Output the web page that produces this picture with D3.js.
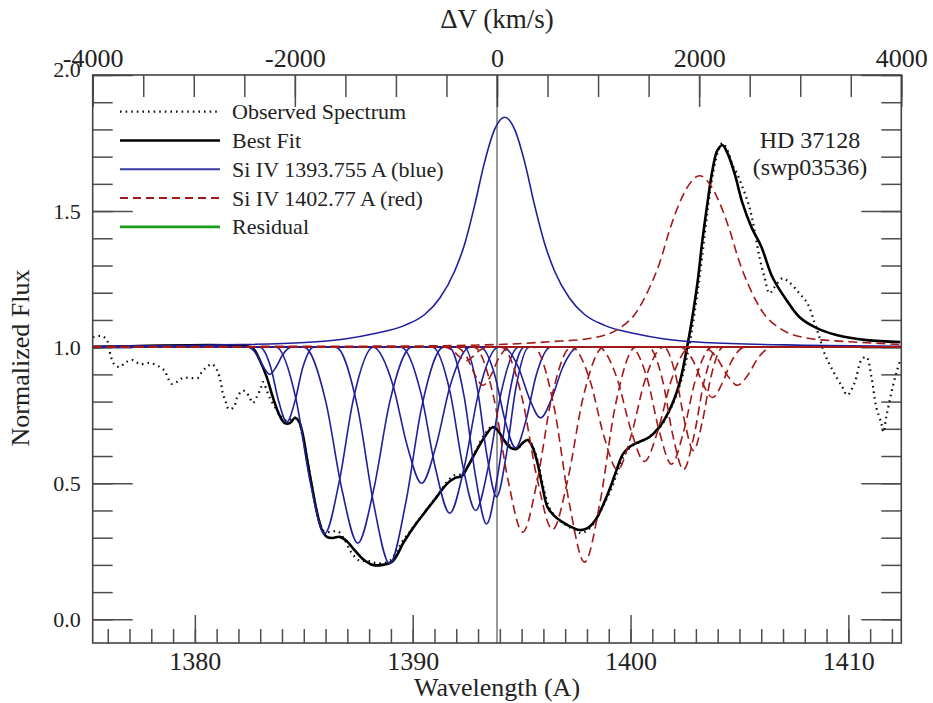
<!DOCTYPE html>
<html>
<head>
<meta charset="utf-8">
<script src="https://cdn.jsdelivr.net/npm/d3@7"></script>
<style>
  body { margin: 0; background: #fff; }
  text { font-family: "Liberation Serif", "Times New Roman", serif; fill: #222; }
</style>
</head>
<body>
<svg class="chart" width="933" height="703"></svg>
<script>
// wavelength (A) and normalized flux
var observed = [
  [1375.32,1.037],[1375.73,1.041],[1375.96,1.026],[1376.15,0.964],[1376.33,0.934],[1376.56,0.927],[1376.79,0.942],
  [1377.11,0.953],[1377.48,0.938],[1377.94,0.942],[1378.39,0.927],[1378.62,0.912],[1378.76,0.887],[1378.94,0.865],
  [1379.17,0.872],[1379.45,0.887],[1379.77,0.887],[1380.14,0.887],[1380.32,0.909],[1380.55,0.927],[1380.78,0.938],
  [1381.01,0.916],[1381.19,0.872],[1381.28,0.831],[1381.42,0.798],[1381.56,0.772],[1381.79,0.780],[1381.93,0.813],
  [1382.16,0.839],[1382.29,0.839],[1382.48,0.821],[1382.66,0.795],[1382.84,0.817],[1383.03,0.850],[1383.12,0.872],
  [1383.44,0.813],[1383.76,0.769],[1383.99,0.743],[1384.27,0.728],[1384.54,0.743],[1384.77,0.725],[1384.95,0.670],
  [1385.18,0.578],[1385.41,0.475],[1385.64,0.383],[1385.92,0.324],[1386.24,0.321],[1386.56,0.324],[1386.88,0.291],
  [1387.20,0.244],[1387.57,0.215],[1387.94,0.215],[1388.30,0.207],[1388.67,0.207],[1388.99,0.218],[1389.27,0.251],
  [1389.54,0.288],[1389.86,0.321],[1390.23,0.361],[1390.69,0.409],[1391.15,0.457],[1391.56,0.504],[1391.93,0.530],
  [1392.25,0.534],[1392.57,0.567],[1392.94,0.626],[1393.30,0.680],[1393.62,0.706],[1393.90,0.692],[1394.17,0.659],
  [1394.50,0.637],[1394.82,0.629],[1395.09,0.651],[1395.32,0.659],[1395.55,0.629],[1395.78,0.567],[1396.01,0.482],
  [1396.28,0.409],[1396.61,0.372],[1396.97,0.350],[1397.34,0.332],[1397.71,0.317],[1398.03,0.328],[1398.39,0.361],
  [1398.76,0.420],[1399.13,0.482],[1399.40,0.541],[1399.68,0.600],[1400.00,0.633],[1400.41,0.651],[1400.87,0.670],
  [1401.33,0.703],[1401.79,0.765],[1402.25,0.857],[1402.61,0.971],[1402.89,1.100],[1403.12,1.228],[1403.35,1.375],
  [1403.58,1.529],[1403.81,1.650],[1404.04,1.724],[1404.22,1.750],[1404.45,1.724],[1404.68,1.669],[1404.86,1.643],
  [1405.14,1.588],[1405.46,1.514],[1405.69,1.429],[1405.92,1.330],[1406.15,1.257],[1406.38,1.198],[1406.61,1.220],
  [1406.97,1.253],[1407.29,1.238],[1407.75,1.198],[1408.12,1.161],[1408.44,1.092],[1408.67,1.037],[1408.90,0.978],
  [1409.27,0.916],[1409.72,0.854],[1409.95,0.824],[1410.28,0.868],[1410.60,0.953],[1410.83,0.964],[1411.06,0.890],
  [1411.28,0.780],[1411.51,0.722],[1411.61,0.688],[1411.74,0.743],[1411.97,0.831],[1412.20,0.905],[1412.39,0.953]
];

var bestFit = [
  [1375.32,1.000],[1382.29,1.004],[1382.66,0.996],[1382.98,0.952],[1383.30,0.890],[1383.58,0.816],[1383.90,0.747],
  [1384.13,0.721],[1384.36,0.721],[1384.59,0.740],[1384.77,0.729],[1384.95,0.681],[1385.14,0.593],[1385.37,0.490],
  [1385.60,0.395],[1385.83,0.329],[1386.06,0.303],[1386.33,0.299],[1386.65,0.303],[1386.97,0.288],[1387.29,0.258],
  [1387.71,0.222],[1388.17,0.200],[1388.62,0.200],[1389.04,0.211],[1389.31,0.240],[1389.54,0.277],[1389.86,0.317],
  [1390.18,0.354],[1390.64,0.402],[1391.10,0.449],[1391.56,0.497],[1391.93,0.519],[1392.25,0.526],[1392.52,0.560],
  [1392.94,0.622],[1393.30,0.670],[1393.67,0.706],[1393.90,0.695],[1394.13,0.666],[1394.45,0.633],[1394.77,0.626],
  [1395.05,0.648],[1395.28,0.659],[1395.50,0.633],[1395.73,0.574],[1395.96,0.486],[1396.19,0.412],[1396.51,0.379],
  [1396.88,0.357],[1397.29,0.339],[1397.66,0.328],[1398.03,0.335],[1398.39,0.365],[1398.76,0.424],[1399.08,0.486],
  [1399.36,0.549],[1399.63,0.604],[1399.95,0.633],[1400.28,0.648],[1400.87,0.670],[1401.33,0.707],[1401.79,0.769],
  [1402.25,0.868],[1402.57,0.989],[1402.84,1.111],[1403.07,1.235],[1403.30,1.393],[1403.53,1.529],[1403.76,1.650],
  [1403.99,1.724],[1404.22,1.742],[1404.45,1.713],[1404.77,1.640],[1405.14,1.529],[1405.55,1.441],[1406.01,1.368],
  [1406.51,1.258],[1407.16,1.173],[1407.75,1.111],[1408.53,1.071],[1409.45,1.045],[1410.83,1.026],[1412.39,1.019]
];

// Si IV 1393.755 emission component
var blueEmission = [
  [1375.31,1.003],[1380.46,1.007],[1385.05,1.017],[1386.88,1.030],[1388.26,1.050],[1389.63,1.080],[1390.55,1.120],
  [1391.24,1.180],[1391.93,1.280],[1392.39,1.380],[1392.84,1.520],[1393.30,1.680],[1393.76,1.800],[1394.22,1.845],
  [1394.68,1.800],[1395.14,1.680],[1395.60,1.520],[1396.06,1.380],[1396.51,1.280],[1397.20,1.180],[1397.89,1.120],
  [1398.81,1.080],[1400.18,1.050],[1401.56,1.030],[1403.39,1.017],[1407.98,1.007],[1412.43,1.003]
];

// Si IV 1393.755 absorption components
var blueAbsorption = [
  [[1382.45,1],[1382.85,0.972],[1383.15,0.927],[1383.44,0.90],[1383.73,0.927],[1384.03,0.972],[1384.43,1]],
  [[1382.98,1],[1383.49,0.924],[1383.85,0.800],[1384.22,0.725],[1384.59,0.800],[1384.95,0.924],[1385.46,1]],
  [[1383.73,1],[1384.64,0.810],[1385.30,0.503],[1385.96,0.315],[1386.62,0.503],[1387.28,0.810],[1388.19,1]],
  [[1385.00,1],[1386.01,0.800],[1386.75,0.477],[1387.48,0.280],[1388.21,0.477],[1388.95,0.800],[1389.96,1]],
  [[1386.46,1],[1387.47,0.779],[1388.21,0.423],[1388.94,0.205],[1389.67,0.423],[1390.41,0.779],[1391.42,1]],
  [[1388.18,1],[1389.09,0.861],[1389.75,0.637],[1390.41,0.500],[1391.07,0.637],[1391.73,0.861],[1392.64,1]],
  [[1389.47,1],[1390.38,0.830],[1391.04,0.557],[1391.70,0.390],[1392.36,0.557],[1393.02,0.830],[1393.93,1]],
  [[1390.91,1],[1391.72,0.833],[1392.30,0.564],[1392.89,0.400],[1393.48,0.564],[1394.06,0.833],[1394.87,1]],
  [[1391.66,1],[1392.36,0.819],[1392.88,0.528],[1393.39,0.350],[1393.90,0.528],[1394.42,0.819],[1395.12,1]],
  [[1392.36,1],[1392.97,0.847],[1393.41,0.601],[1393.85,0.450],[1394.29,0.601],[1394.73,0.847],[1395.34,1]],
  [[1393.11,1],[1393.77,0.897],[1394.24,0.731],[1394.72,0.630],[1395.20,0.731],[1395.67,0.897],[1396.33,1]],
  [[1394.14,1],[1394.84,0.928],[1395.36,0.811],[1395.87,0.740],[1396.38,0.811],[1396.90,0.928],[1397.60,1]]
];

// Si IV 1402.77 emission component
var redEmission = [
  [1375.31,1.002],[1389.41,1.004],[1394.00,1.010],[1396.29,1.020],[1398.12,1.032],[1399.50,1.070],[1400.19,1.120],
  [1400.88,1.220],[1401.34,1.310],[1401.79,1.430],[1402.25,1.530],[1402.71,1.600],[1403.17,1.630],[1403.63,1.600],
  [1404.09,1.530],[1404.55,1.430],[1405.01,1.310],[1405.46,1.220],[1406.15,1.120],[1406.84,1.070],[1408.22,1.032],
  [1410.05,1.020],[1412.43,1.010]
];

// Si IV 1402.77 absorption components
var redAbsorption = [
  [[1391.46,1],[1391.86,0.986],[1392.16,0.964],[1392.45,0.950],[1392.74,0.964],[1393.04,0.986],[1393.44,1]],
  [[1391.99,1],[1392.50,0.961],[1392.86,0.898],[1393.23,0.860],[1393.60,0.898],[1393.96,0.961],[1394.47,1]],
  [[1392.82,1],[1393.73,0.811],[1394.39,0.506],[1395.05,0.320],[1395.71,0.506],[1396.37,0.811],[1397.28,1]],
  [[1394.07,1],[1395.02,0.814],[1395.72,0.514],[1396.42,0.330],[1397.12,0.514],[1397.82,0.814],[1398.77,1]],
  [[1395.54,1],[1396.49,0.780],[1397.19,0.426],[1397.89,0.210],[1398.59,0.426],[1399.29,0.780],[1400.24,1]],
  [[1397.29,1],[1398.15,0.875],[1398.78,0.673],[1399.40,0.550],[1400.02,0.673],[1400.65,0.875],[1401.51,1]],
  [[1398.53,1],[1399.39,0.883],[1400.02,0.695],[1400.64,0.580],[1401.26,0.695],[1401.89,0.883],[1402.75,1]],
  [[1400.02,1],[1400.78,0.880],[1401.33,0.688],[1401.88,0.570],[1402.43,0.688],[1402.98,0.880],[1403.74,1]],
  [[1400.82,1],[1401.48,0.875],[1401.95,0.673],[1402.43,0.550],[1402.91,0.673],[1403.38,0.875],[1404.04,1]],
  [[1401.53,1],[1402.08,0.894],[1402.49,0.724],[1402.89,0.620],[1403.29,0.724],[1403.70,0.894],[1404.25,1]],
  [[1402.27,1],[1402.88,0.949],[1403.32,0.866],[1403.76,0.815],[1404.20,0.866],[1404.64,0.949],[1405.25,1]],
  [[1403.30,1],[1403.96,0.961],[1404.43,0.898],[1404.91,0.860],[1405.39,0.898],[1405.86,0.961],[1406.52,1]]
];

var waveMajor = [1380, 1390, 1400, 1410];
var waveMinor = d3.range(1376, 1413, 1);
var velMajor = [-4000, -2000, 0, 2000, 4000];
var velMinor = d3.range(-4000, 4001, 500);
var fluxMajor = [0, 0.5, 1.0, 1.5, 2.0];
var fluxMinor = d3.range(0, 2.01, 0.1);
var legendLabels = ["Observed Spectrum", "Best Fit", "Si IV 1393.755 A (blue)", "Si IV 1402.77 A (red)", "Residual"];

var blue = "#1f1f9c", red = "#a31818", green = "#1a9e1a", tickCol = "#4d4d4d";
var padL = 92.7, padR = 901.3, padT = 75, padB = 643;
var waveDomain = [1375.31, 1412.43];

var svg = d3.select(".chart");

var x = d3.scaleLinear().domain(waveDomain).range([padL, padR]);
var v = d3.scaleLinear().domain([-4000, 4000]).range([padL, padR]);
var y = d3.scaleLinear().domain([-0.087, 2.0]).range([padB, padT]);

function styleAxis(g) {
  g.select(".domain").remove();
  g.selectAll(".tick line").attr("stroke", tickCol).attr("stroke-width", 1.5);
  g.selectAll(".tick text").attr("fill", "#222");
}

// left / right flux axes
svg.append("g").attr("transform", "translate(" + padL + ",0)")
  .call(d3.axisLeft(y).tickValues(fluxMinor).tickSize(-20).tickFormat("")).call(styleAxis);
svg.append("g").attr("transform", "translate(" + padL + ",0)")
  .call(d3.axisLeft(y).tickValues(fluxMajor).tickSize(-40).tickPadding(12).tickFormat(d3.format(".1f")))
  .call(styleAxis)
  .selectAll(".tick text").style("font-size", "22px")
  .attr("dy", function(d) { return d === 2 ? "0.07em" : "0.32em"; });
svg.append("g").attr("transform", "translate(" + padR + ",0)")
  .call(d3.axisRight(y).tickValues(fluxMinor).tickSize(-20).tickFormat("")).call(styleAxis);
svg.append("g").attr("transform", "translate(" + padR + ",0)")
  .call(d3.axisRight(y).tickValues(fluxMajor).tickSize(-40).tickFormat("")).call(styleAxis);

// bottom wavelength axis
svg.append("g").attr("transform", "translate(0," + padB + ")")
  .call(d3.axisBottom(x).tickValues(waveMinor).tickSize(-14).tickFormat("")).call(styleAxis);
svg.append("g").attr("transform", "translate(0," + padB + ")")
  .call(d3.axisBottom(x).tickValues(waveMajor).tickSize(-28).tickPadding(9).tickFormat(d3.format("d")))
  .call(styleAxis)
  .selectAll(".tick text").style("font-size", "26px");

// top velocity axis (plain hyphen for negatives, as in the original)
svg.append("g").attr("transform", "translate(0," + padT + ")")
  .call(d3.axisTop(v).tickValues(velMinor).tickSize(-22).tickFormat("")).call(styleAxis);
svg.append("g").attr("transform", "translate(0," + padT + ")")
  .call(d3.axisTop(v).tickValues(velMajor).tickSize(-32).tickPadding(8).tickFormat(function(d) { return String(d); }))
  .call(styleAxis)
  .selectAll(".tick text").style("font-size", "26px");

// zero velocity marker
svg.append("line")
  .attr("x1", v(0)).attr("x2", v(0)).attr("y1", padT).attr("y2", padB)
  .attr("stroke", "#333").attr("stroke-width", 1);

var smooth = d3.line().x(function(d) { return x(d[0]); }).y(function(d) { return y(d[1]); })
  .curve(d3.curveCatmullRom.alpha(0.5));
var comp = d3.line().x(function(d) { return x(d[0]); }).y(function(d) { return y(d[1]); })
  .curve(d3.curveMonotoneX);

function fullRange(pts) {
  return [[waveDomain[0], 1]].concat(pts, [[waveDomain[1], 1]]);
}

var plot = svg.append("g");

plot.append("path").datum(observed)
  .attr("d", smooth).attr("fill", "none").attr("stroke", "#111")
  .attr("stroke-width", 2.2).attr("stroke-dasharray", "1.6,4");

plot.append("path").datum(bestFit)
  .attr("d", smooth).attr("fill", "none").attr("stroke", "#000").attr("stroke-width", 2.6);

plot.selectAll(".blueabs").data(blueAbsorption).enter().append("path")
  .attr("class", "blueabs")
  .attr("d", function(d) { return comp(fullRange(d)); })
  .attr("fill", "none").attr("stroke", blue).attr("stroke-width", 1.6);

plot.append("path").datum(blueEmission)
  .attr("d", comp).attr("fill", "none").attr("stroke", blue).attr("stroke-width", 1.6);

plot.selectAll(".redabs").data(redAbsorption).enter().append("path")
  .attr("class", "redabs")
  .attr("d", function(d) { return comp(fullRange(d)); })
  .attr("fill", "none").attr("stroke", red).attr("stroke-width", 1.6)
  .attr("stroke-dasharray", "9,5");

plot.append("path").datum(redEmission)
  .attr("d", comp).attr("fill", "none").attr("stroke", red).attr("stroke-width", 1.6)
  .attr("stroke-dasharray", "9,5");

// frame
svg.append("rect")
  .attr("x", padL).attr("y", padT).attr("width", padR - padL).attr("height", padB - padT)
  .attr("fill", "none").attr("stroke", "#444").attr("stroke-width", 1.6);

// legend
var legendStyles = [
  { color: "#111", width: 2.2, dash: "1.6,4" },
  { color: "#000", width: 2.6, dash: null },
  { color: "#3a3aa6", width: 2, dash: null },
  { color: red, width: 2, dash: "8,5" },
  { color: green, width: 2.6, dash: null }
];
var legend = svg.append("g").attr("transform", "translate(120,111.7)");
var rows = legend.selectAll("g").data(legendLabels).enter().append("g")
  .attr("transform", function(d, i) { return "translate(0," + (i * 28.8) + ")"; });
rows.append("line")
  .attr("x1", 0).attr("x2", 100)
  .attr("stroke", function(d, i) { return legendStyles[i].color; })
  .attr("stroke-width", function(d, i) { return legendStyles[i].width; })
  .attr("stroke-dasharray", function(d, i) { return legendStyles[i].dash; });
rows.append("text")
  .attr("x", 112).attr("dy", "0.34em")
  .style("font-size", "22px")
  .text(function(d) { return d; });

// star label
svg.append("text").attr("x", 810).attr("y", 148).attr("text-anchor", "middle")
  .style("font-size", "24px").text("HD 37128");
svg.append("text").attr("x", 810).attr("y", 175).attr("text-anchor", "middle")
  .style("font-size", "24px").text("(swp03536)");

// axis titles
svg.append("text").attr("x", v(0)).attr("y", 28).attr("text-anchor", "middle")
  .style("font-size", "27px").text("ΔV (km/s)");
svg.append("text").attr("x", (padL + padR) / 2).attr("y", 696).attr("text-anchor", "middle")
  .style("font-size", "26px").text("Wavelength (A)");
svg.append("text").attr("transform", "translate(29,358) rotate(-90)").attr("text-anchor", "middle")
  .style("font-size", "26px").text("Normalized Flux");
</script>
</body>
</html>
